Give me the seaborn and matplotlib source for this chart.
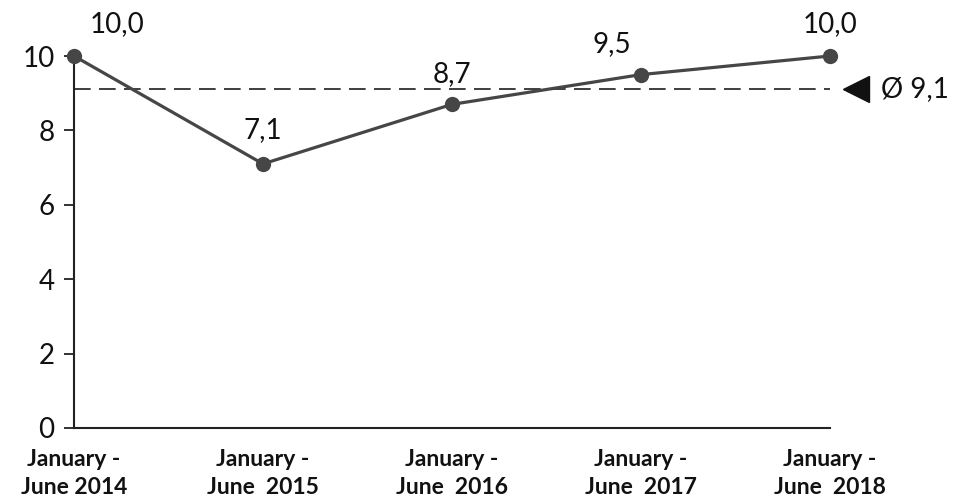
import matplotlib
matplotlib.use('Agg')
import matplotlib.pyplot as plt
import pandas as pd
import seaborn as sns

# data
periods = ["January -\nJune 2014", "January -\nJune  2015", "January -\nJune  2016",
           "January -\nJune  2017", "January -\nJune  2018"]
values = [10.0, 7.1, 8.7, 9.5, 10.0]
value_labels = ["10,0", "7,1", "8,7", "9,5", "10,0"]
average = 9.1
average_label = "Ø 9,1"
y_ticks = [0, 2, 4, 6, 8, 10]

# label offsets in points (style only)
label_offsets = [(31, 23), (0, 24), (0, 22), (-21, 22), (0, 23)]

sns.set_style("white")
plt.rcParams['font.family'] = ['Lato', 'DejaVu Sans']

df = pd.DataFrame({"pos": range(len(periods)), "value": values})

fig = plt.figure(figsize=(9.57, 5.01), dpi=100)
ax = fig.add_axes([74 / 957, 73 / 501, 756 / 957, 372 / 501])

line_col = "#464646"
sns.lineplot(data=df, x="pos", y="value", ax=ax, color=line_col, linewidth=2.3,
             marker="o", markersize=11, markeredgewidth=0, clip_on=False, zorder=5)

# average line
ax.axhline(average, color="#1e1e1e", linewidth=1.2, linestyle=(0, (10, 5)),
           clip_on=False, zorder=2)
ax.plot([4.14], [average], marker="<", markersize=19, color="#111111",
        clip_on=False, linestyle="none")
ax.text(4.27, average, average_label, fontsize=20, va="center", ha="left",
        color="#111111")

# value labels
for i, (v, lab) in enumerate(zip(values, value_labels)):
    dx, dy = label_offsets[i]
    ax.annotate(lab, (i, v), xytext=(dx, dy), textcoords="offset points",
                ha="center", va="center", fontsize=20, color="#111111")

ax.set_xlim(0, 4)
ax.set_ylim(0, 10)
ax.set_yticks(y_ticks)
ax.set_yticklabels([str(t) for t in y_ticks], fontsize=20, color="#111111")
ax.set_xticks(range(len(periods)))
ax.set_xticklabels(periods, fontsize=16.5, fontweight="bold", color="#111111",
                   linespacing=1.4)
ax.tick_params(axis="y", length=7, width=1.3, color="#222222", pad=7, left=True)
ax.tick_params(axis="x", length=0, pad=15)
ax.set_xlabel("")
ax.set_ylabel("")

for s in ["top", "right"]:
    ax.spines[s].set_visible(False)
for s in ["left", "bottom"]:
    ax.spines[s].set_color("#222222")
    ax.spines[s].set_linewidth(1.5)

fig.savefig("out.png", dpi=100)
